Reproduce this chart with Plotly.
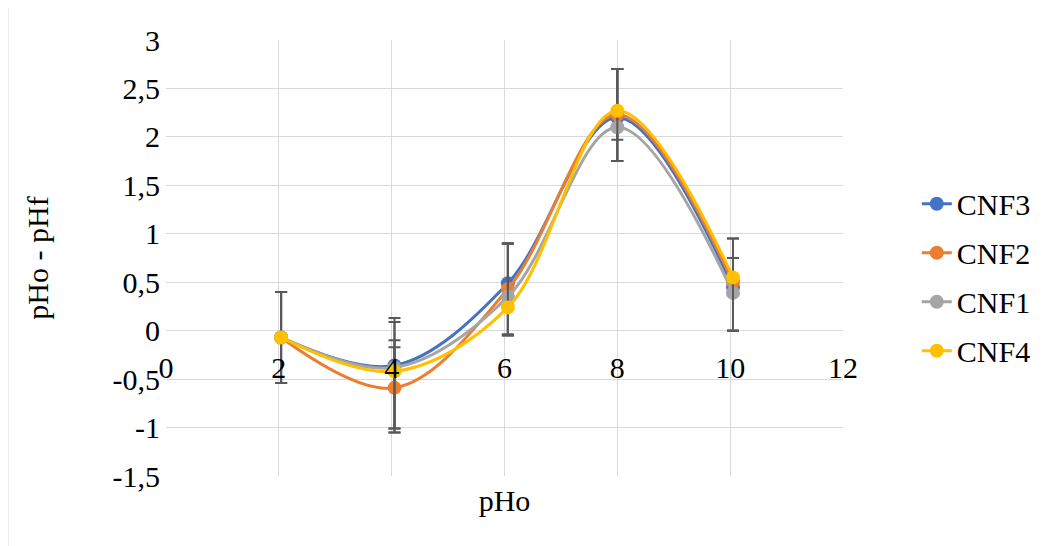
import plotly.graph_objects as go

# Data
ph_initial = [2.04, 4.05, 6.06, 8.0, 10.05]
series_names = ["CNF3", "CNF2", "CNF1", "CNF4"]
cnf3 = [-0.07, -0.36, 0.49, 2.20, 0.45]
cnf2 = [-0.07, -0.59, 0.43, 2.23, 0.50]
cnf1 = [-0.07, -0.38, 0.35, 2.10, 0.39]
cnf4 = [-0.07, -0.42, 0.24, 2.27, 0.55]
cnf3_err_plus = [0.47, 0.49, 0.41, 0.50, 0.30]
cnf3_err_minus = [0.47, 0.65, 0.53, 0.45, 0.45]
cnf2_err_plus = [0.47, 0.49, 0.47, 0.47, 0.45]
cnf2_err_minus = [0.47, 0.42, 0.47, 0.48, 0.50]
cnf1_err_plus = [0.47, 0.47, 0.55, 0.60, 0.36]
cnf1_err_minus = [0.47, 0.67, 0.40, 0.13, 0.39]
cnf4_err_plus = [0.47, 0.25, 0.66, 0.43, 0.40]
cnf4_err_minus = [0.47, 0.63, 0.29, 0.52, 0.55]
colors = ["#4472C4", "#ED7D31", "#A5A5A5", "#FFC000"]
y_tickvals = [3, 2.5, 2, 1.5, 1, 0.5, 0, -0.5, -1, -1.5]
y_ticktext = ["3", "2,5", "2", "1,5", "1", "0,5", "0", "-0,5", "-1", "-1,5"]
x_tickvals = [0, 2, 4, 6, 8, 10, 12]
x_ticktext = ["0", "2", "4", "6", "8", "10", "12"]

values = [cnf3, cnf2, cnf1, cnf4]
errs_p = [cnf3_err_plus, cnf2_err_plus, cnf1_err_plus, cnf4_err_plus]
errs_m = [cnf3_err_minus, cnf2_err_minus, cnf1_err_minus, cnf4_err_minus]

FONT = "Liberation Serif"
FS = 30

fig = go.Figure()
for name, vals, ep, em, c in zip(series_names, values, errs_p, errs_m, colors):
    fig.add_trace(go.Scatter(
        x=ph_initial, y=vals, name=name, mode="lines+markers",
        legendgroup=name,
        line=dict(color=c, width=3, shape="spline", smoothing=1.0),
        marker=dict(color=c, size=14),
        error_y=dict(type="data", symmetric=False, array=ep, arrayminus=em,
                     color="#595959", thickness=2, width=6),
    ))

# invisible carrier so the crossing x-axis (at y = 0) is drawn
fig.add_trace(go.Scatter(x=x_tickvals, y=[None] * len(x_tickvals), xaxis="x2",
                         mode="markers", showlegend=False, hoverinfo="skip"))

W, H = 1042, 538  # page body has an 8px margin
fig.update_layout(
    width=W, height=H,
    paper_bgcolor="white", plot_bgcolor="white",
    margin=dict(l=158, r=W - 158 - 677, t=32, b=H - 32 - 436),
    font=dict(family=FONT, size=FS, color="black"),
    showlegend=True,
    legend=dict(x=1.109, y=0.456, xanchor="left", yanchor="middle",
                font=dict(family=FONT, size=FS), tracegroupgap=7,
                bgcolor="rgba(0,0,0,0)"),
    xaxis=dict(range=[0, 12], tickvals=x_tickvals, showticklabels=False,
               showgrid=True, gridcolor="#d9d9d9", gridwidth=1,
               zeroline=False, showline=False, ticks="",
               title=dict(text="pHo", font=dict(family=FONT, size=FS), standoff=13)),
    xaxis2=dict(range=[0, 12], overlaying="x", anchor="free", position=1/3,
                tickvals=x_tickvals, ticktext=x_ticktext, showgrid=False,
                zeroline=False, showline=False, ticks="", ticklabelstandoff=16,
                tickfont=dict(family=FONT, size=FS), side="bottom"),
    yaxis=dict(range=[-1.5, 3], tickvals=y_tickvals, ticktext=y_ticktext,
               showgrid=True, gridcolor="#d9d9d9", gridwidth=1,
               zeroline=True, zerolinecolor="#d9d9d9", zerolinewidth=1,
               showline=False, ticks="", ticklabelstandoff=5,
               tickfont=dict(family=FONT, size=FS),
               title=dict(text="pHo - pHf", font=dict(family=FONT, size=FS), standoff=55)),
)

# chart-area border
fig.add_shape(type="rect", xref="paper", yref="paper",
              x0=(8 - 166) / 677, x1=(1043 - 166) / 677,
              y0=(476 - 560) / 436, y1=1 + 33 / 436,
              line=dict(color="#d9d9d9", width=1), fillcolor="rgba(0,0,0,0)", layer="below")

fig.write_html("out.html")
